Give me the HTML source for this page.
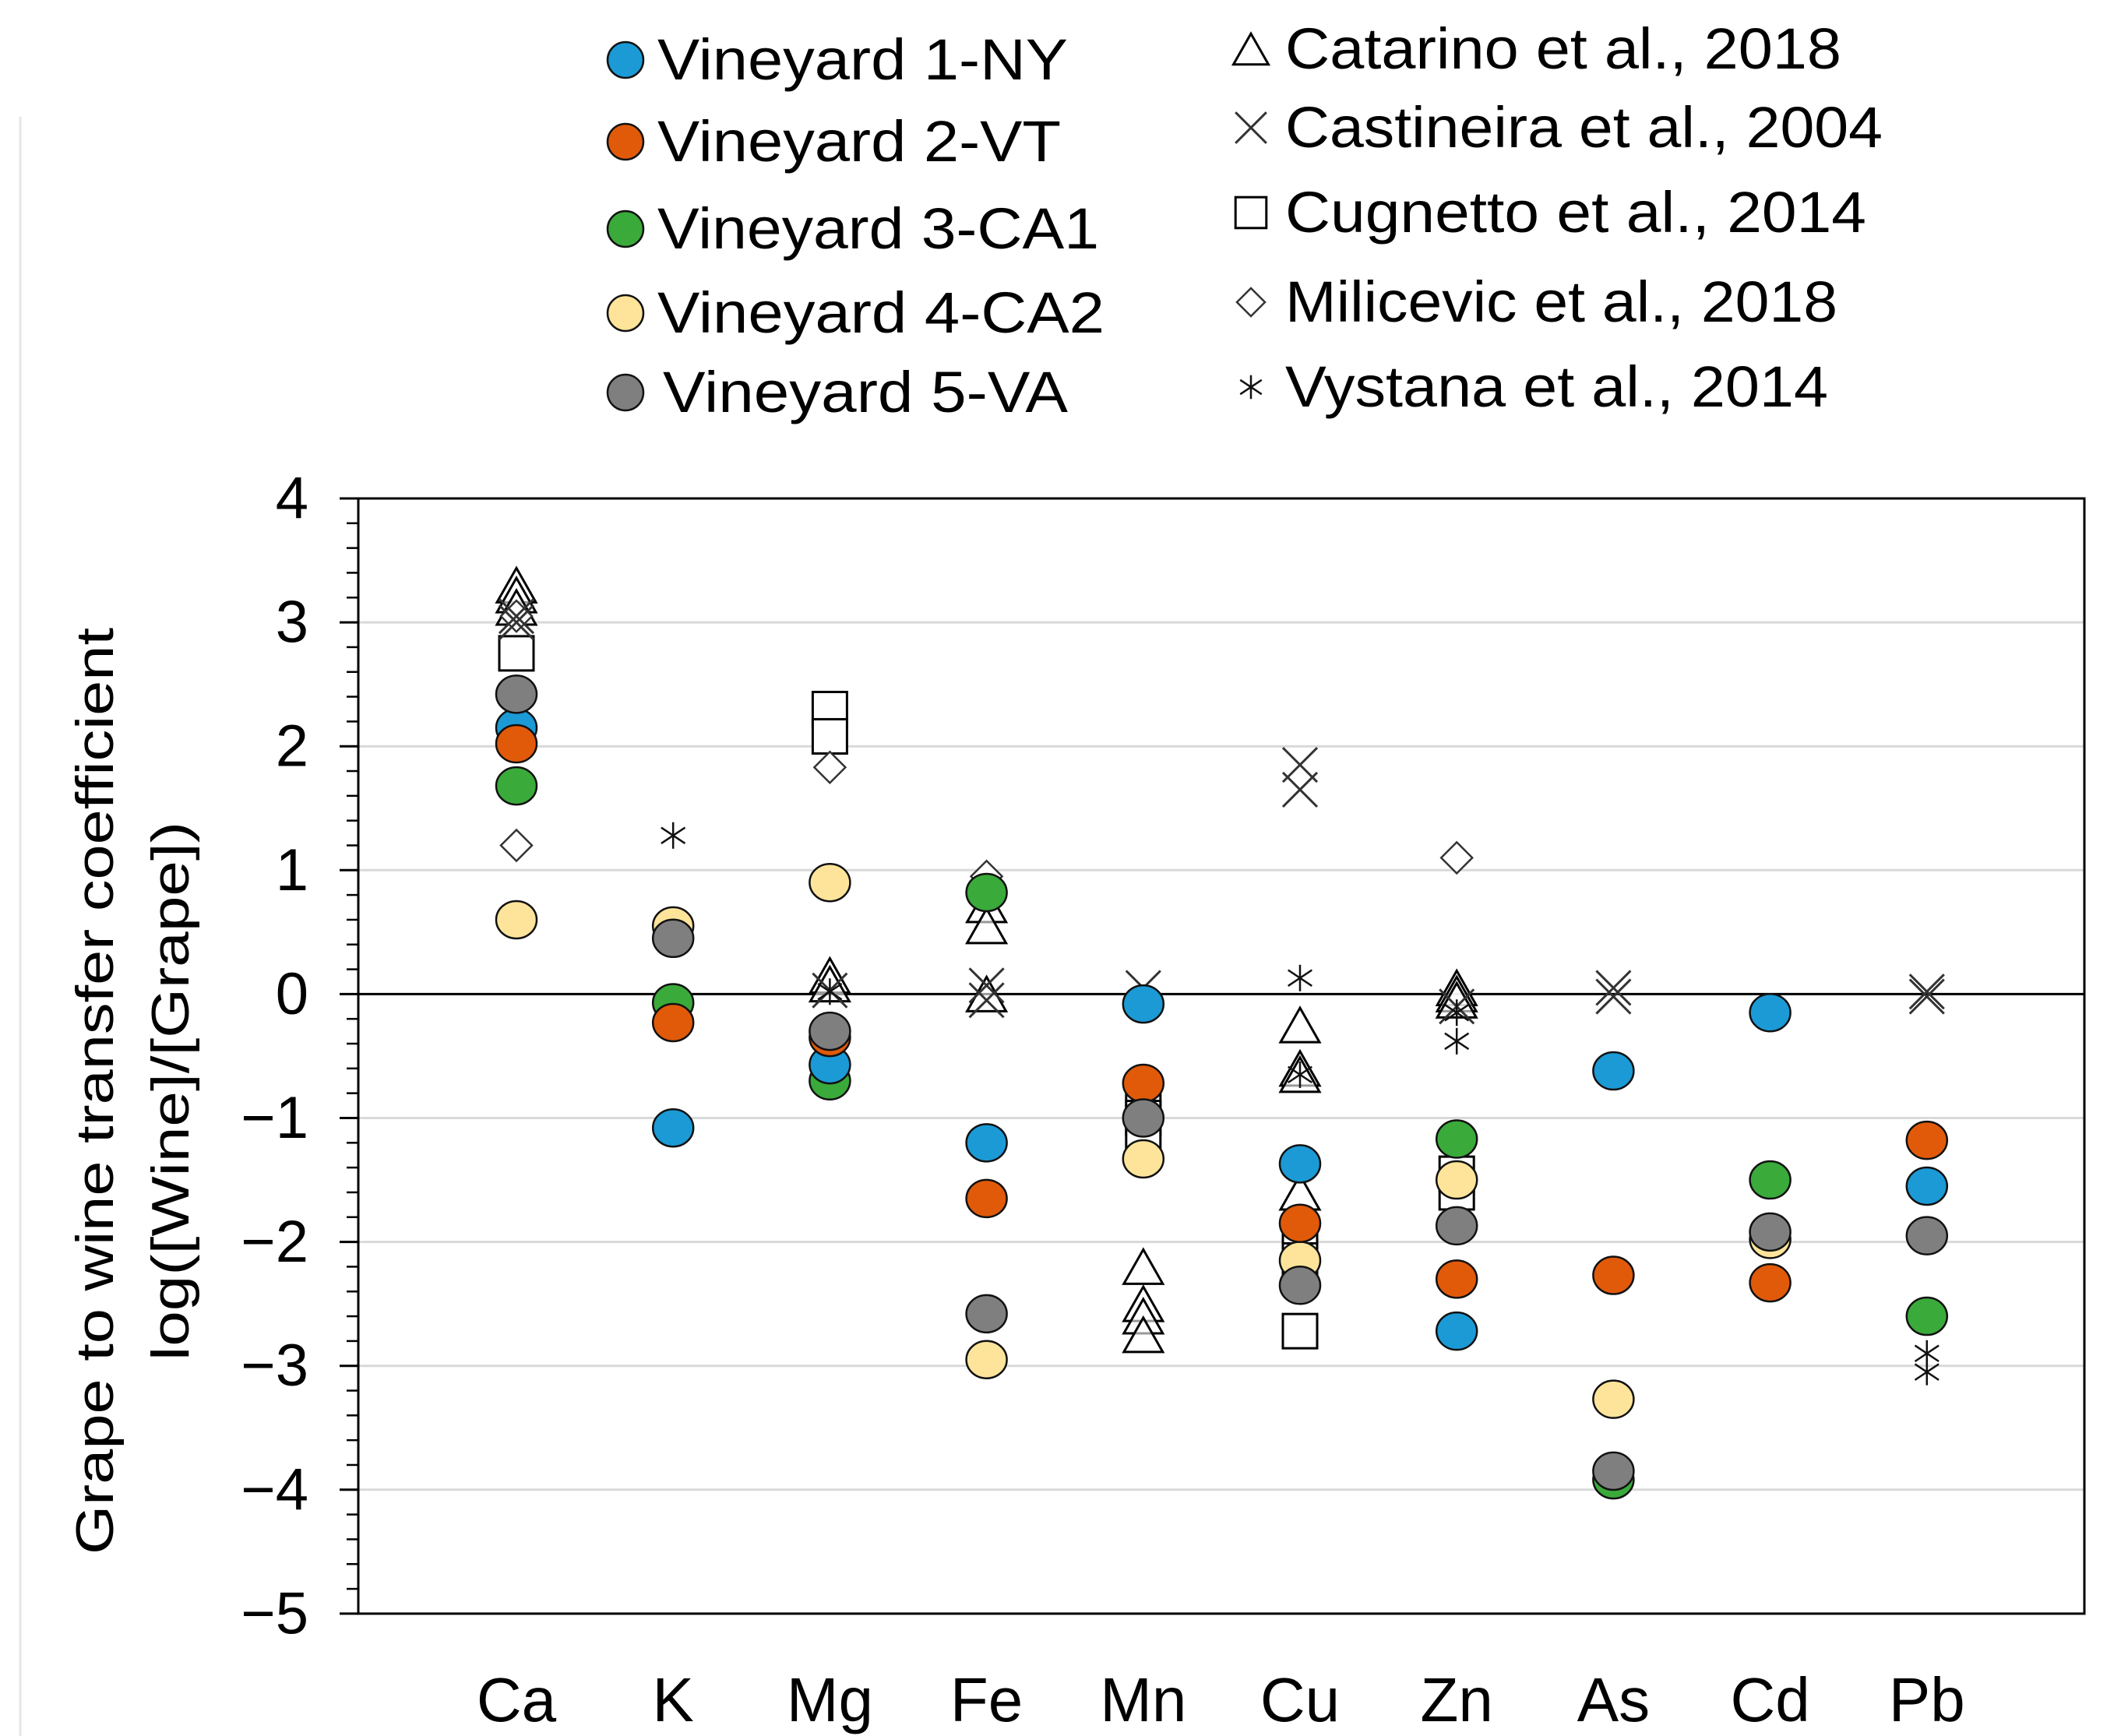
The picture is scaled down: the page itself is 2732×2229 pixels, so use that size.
<!DOCTYPE html>
<html><head><meta charset="utf-8"><style>
html,body{margin:0;padding:0;background:#fff;}
svg{display:block;font-family:"Liberation Sans",Arial,sans-serif;}
</style></head><body>
<svg id="chart" width="2732" height="2229" viewBox="0 0 2732 2229" xmlns="http://www.w3.org/2000/svg">
<line x1="26" y1="150" x2="26" y2="2229" stroke="#e6e6e6" stroke-width="3"/>
<g id="legend"></g>
<g id="grid"></g>
<g id="axes"></g>
<g id="marks"></g>
<g font-size="68" fill="#000">
<text transform="translate(122,1401) rotate(-90)" text-anchor="middle" dominant-baseline="central" textLength="1190" lengthAdjust="spacingAndGlyphs">Grape to wine transfer coefficient</text>
<text transform="translate(219,1401) rotate(-90)" text-anchor="middle" dominant-baseline="central" textLength="692" lengthAdjust="spacingAndGlyphs">log([Wine]/[Grape])</text>
</g>
</svg>
<script>
const categories=["Ca","K","Mg","Fe","Mn","Cu","Zn","As","Cd","Pb"];
const yTicks=[4,3,2,1,0,-1,-2,-3,-4,-5];
const yTickLabels=["4","3","2","1","0","\u22121","\u22122","\u22123","\u22124","\u22125"];
const v1NY=[2.15,-1.08,-0.57,-1.2,-0.08,-1.37,-2.72,-0.62,-0.15,-1.55];
const v2VT=[2.02,-0.23,-0.35,-1.65,-0.72,-1.85,-2.3,-2.27,-2.33,-1.18];
const v3CA1=[1.68,-0.07,-0.7,0.82,null,null,-1.17,-3.92,-1.5,-2.6];
const v4CA2=[0.6,0.55,0.9,-2.95,-1.33,-2.15,-1.5,-3.27,-1.98,null];
const v5VA=[2.42,0.45,-0.3,-2.58,-1.0,-2.35,-1.87,-3.85,-1.92,-1.95];
const catarino=[[0,3.3],[0,3.22],[0,3.12],[2,0.15],[2,0.08],[3,0.72],[3,0.55],[3,0],[4,-2.2],[4,-2.5],[4,-2.6],[4,-2.75],[5,-0.25],[5,-0.6],[5,-0.65],[5,-1.6],[6,0.05],[6,0],[6,-0.05]];
const castineira=[[0,3.05],[0,3.0],[2,0.03],[3,0.07],[3,-0.05],[4,0.05],[5,1.85],[5,1.65],[6,-0.1],[7,0.05],[7,-0.02],[9,0.02],[9,-0.02]];
const cugnetto=[[0,2.75],[2,2.3],[2,2.08],[4,-0.8],[4,-1.0],[4,-1.2],[5,-2.05],[5,-2.15],[5,-2.72],[6,-1.45],[6,-1.6]];
const milicevic=[[0,3.05],[0,1.2],[2,1.83],[3,0.95],[6,1.1]];
const vystana=[[1,1.28],[2,0.02],[5,0.13],[5,-0.65],[6,-0.15],[6,-0.38],[9,-2.9],[9,-3.05]];

const NS="http://www.w3.org/2000/svg";
const X0=460,X1=2676,Y4=640,PER=159.1;
function xs(i){return 663+201.2*i;}
function ys(v){return Y4+(4-v)*PER;}
function mk(tag,attrs,parent){const e=document.createElementNS(NS,tag);for(const k in attrs)e.setAttribute(k,attrs[k]);parent.appendChild(e);return e;}
const grid=document.getElementById('grid'),axes=document.getElementById('axes'),marks=document.getElementById('marks'),legend=document.getElementById('legend');

yTicks.forEach((t,i)=>{
  if(t!==0&&t!==4&&t!==-5){const g=mk('line',{x1:X0,x2:X1,y1:ys(t),y2:ys(t),stroke:'#d9d9d9','stroke-width':3},grid);
  
  }
  const tk=mk('line',{x1:X0-24,x2:X0,y1:ys(t),y2:ys(t),stroke:'#000','stroke-width':3},axes);
  
  
  const lb=mk('text',{x:396,y:ys(t),'text-anchor':'end','dominant-baseline':'central','font-size':76},axes);
  lb.textContent=yTickLabels[i];
  
  
});
for(let v=-5;v<4;v+=1){for(let k=1;k<5;k++){const m=mk('line',{x1:X0-15,x2:X0,y1:ys(v+k*0.2),y2:ys(v+k*0.2),stroke:'#000','stroke-width':2.5},axes);
  
  }}
const frame=mk('rect',{x:X0,y:ys(4),width:X1-X0,height:ys(-5)-ys(4),fill:'none',stroke:'#000','stroke-width':3},axes);


const zl=mk('line',{x1:X0,x2:X1,y1:ys(0),y2:ys(0),stroke:'#000','stroke-width':3},axes);


categories.forEach((c,i)=>{const t=mk('text',{x:xs(i),y:2210,'text-anchor':'middle','font-size':80},axes);t.textContent=c;
  
  });

function drawSym(type,cx,cy,parent,s){
  s=s||1;
  if(type==='tri'){const h=22*s;return mk('path',{d:`M${cx} ${cy-h}L${cx+25*s} ${cy+h}L${cx-25*s} ${cy+h}Z`,fill:'#fff','fill-opacity':0.6,stroke:'#000','stroke-width':3},parent);}
  if(type==='x'){const d=22*s;return mk('path',{d:`M${cx-d} ${cy-d}L${cx+d} ${cy+d}M${cx+d} ${cy-d}L${cx-d} ${cy+d}`,stroke:'#333','stroke-width':3,fill:'none'},parent);}
  if(type==='sq'){const d=22*s;return mk('rect',{x:cx-d,y:cy-d,width:2*d,height:2*d,fill:'#fff',stroke:'#000','stroke-width':3},parent);}
  if(type==='dia'){const d=20*s;return mk('path',{d:`M${cx} ${cy-d}L${cx+d} ${cy}L${cx} ${cy+d}L${cx-d} ${cy}Z`,fill:'#fff',stroke:'#333','stroke-width':2.5},parent);}
  if(type==='star'){const d=17*s;return mk('path',{d:`M${cx} ${cy-d}L${cx} ${cy+d}M${cx-d*0.9} ${cy-d*0.6}L${cx+d*0.9} ${cy+d*0.6}M${cx+d*0.9} ${cy-d*0.6}L${cx-d*0.9} ${cy+d*0.6}`,stroke:'#111','stroke-width':2.5,fill:'none'},parent);}
}
const lit=[[cugnetto,'sq','cugnetto-marker'],[catarino,'tri','catarino-marker'],[milicevic,'dia','milicevic-marker'],[castineira,'x','castineira-marker'],[vystana,'star','vystana-marker']];
lit.forEach(([arr,type,name])=>{arr.forEach(([i,v])=>{if(v===null)return;const e=drawSym(type,xs(i),ys(v),marks);
  
  });});
const vin=[[v4CA2,'#fde49a','vineyard4-point'],[v3CA1,'#3aaa3a','vineyard3-point'],[v1NY,'#1b9ad6','vineyard1-point'],[v2VT,'#e05a0a','vineyard2-point'],[v5VA,'#7f7f7f','vineyard5-point']];
vin.forEach(([arr,col,name])=>{arr.forEach((v,i)=>{if(v===null)return;const e=mk('ellipse',{cx:xs(i),cy:ys(v),rx:26,ry:24,fill:col,stroke:'#111','stroke-width':2.5},marks);
  
  });});

const legL=[["Vineyard 1-NY",'#1b9ad6',102,527],["Vineyard 2-VT",'#e05a0a',207,518],["Vineyard 3-CA1",'#3aaa3a',319,567],["Vineyard 4-CA2",'#fde49a',427,574],["Vineyard 5-VA",'#7f7f7f',529,520]];
legL.forEach(([t,c,y,w],k)=>{
  const e=mk('ellipse',{cx:803,cy:y-25,rx:23,ry:23,fill:c,stroke:'#111','stroke-width':2.5},legend);
  
  
  const tx=mk('text',{x:k===4?851:844,y:y,'font-size':74,textLength:w,lengthAdjust:'spacingAndGlyphs'},legend);tx.textContent=t;
  
  
});
const legR=[["Catarino et al., 2018",'tri',88,714],["Castineira et al., 2004",'x',189,767],["Cugnetto et al., 2014",'sq',298,746],["Milicevic et al., 2018",'dia',413,709],["Vystana et al., 2014",'star',522,697]];
legR.forEach(([t,type,y,w])=>{
  const e=drawSym(type,1606,y-25,legend,0.9);
  
  
  const tx=mk('text',{x:1650,y:y,'font-size':74,textLength:w,lengthAdjust:'spacingAndGlyphs'},legend);tx.textContent=t;
  
  
});
</script>
</body></html>
